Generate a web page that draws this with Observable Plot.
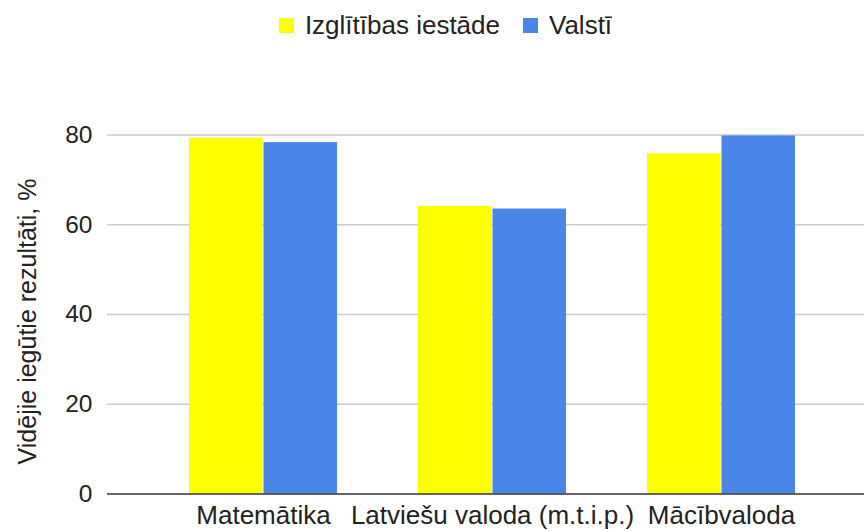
<!DOCTYPE html>
<html>
<head>
<meta charset="utf-8">
<script src="https://cdn.jsdelivr.net/npm/d3@7"></script>
<script src="https://cdn.jsdelivr.net/npm/@observablehq/plot@0.6"></script>
<style>
  html, body { margin: 0; padding: 0; background: #fff; }
  body { width: 864px; height: 531px; overflow: hidden; font-family: "Liberation Sans", Arial, sans-serif; color: #222; }
  #legend { height: 50px; display: flex; align-items: center; justify-content: center; padding-left: 27px; box-sizing: border-box; font-size: 26px; }
  .item { display: flex; align-items: center; }
  .sw { width: 15px; height: 15px; margin-right: 11px; }
  .item + .item { margin-left: 23px; }
</style>
</head>
<body>
<div id="legend"></div>
<div id="chart"></div>
<script>
const categories = ["Matemātika", "Latviešu valoda (m.t.i.p.)", "Mācībvaloda"];
const seriesNames = ["Izglītības iestāde", "Valstī"];
const schoolValues = [79.3, 64.1, 75.8];
const nationalValues = [78.3, 63.5, 79.8];
const seriesColors = ["#ffff00", "#4a86e8"];
const yTicks = [0, 20, 40, 60, 80];
const yTitle = "Vidējie iegūtie rezultāti, %";

// legend
const legend = document.getElementById("legend");
seriesNames.forEach((name, i) => {
  const it = document.createElement("div");
  it.className = "item";
  const sw = document.createElement("div");
  sw.className = "sw";
  sw.style.background = seriesColors[i];
  const tx = document.createElement("span");
  tx.textContent = name;
  it.appendChild(sw);
  it.appendChild(tx);
  legend.appendChild(it);
});

const school = categories.map((c, i) => ({category: c, value: schoolValues[i]}));
const national = categories.map((c, i) => ({category: c, value: nationalValues[i]}));

const xOpts = {domain: categories, range: [107, 876.6], padding: 0.355, tickSize: 0, tickPadding: 12, label: null};
const bw = Plot.scale({x: {type: "band", ...xOpts}}).bandwidth;
const half = bw / 2;

const chart = Plot.plot({
  width: 864,
  height: 481,
  marginTop: 84.5,
  marginBottom: 37.5,
  marginLeft: 107,
  marginRight: 0,
  style: {fontSize: "26px", fontFamily: "'Liberation Sans', Arial, sans-serif", color: "#222", background: "#fff", overflow: "visible"},
  x: xOpts,
  y: {domain: [0, 80], axis: null},
  marks: [
    Plot.ruleY(yTicks.filter(d => d > 0), {stroke: "#cccccc", strokeWidth: 1.3}),
    Plot.barY(school, {x: "category", y: "value", fill: seriesColors[0], insetRight: half + 0.5}),
    Plot.barY(national, {x: "category", y: "value", fill: seriesColors[1], insetLeft: half + 0.5}),
    Plot.ruleY([0], {stroke: "#333333", strokeWidth: 1.5}),
    Plot.text(yTicks, {y: d => d, frameAnchor: "left", textAnchor: "end", dx: -15, text: d => String(d), fontSize: 24.5, fill: "#222"}),
    Plot.text([yTitle], {frameAnchor: "left", text: d => d, rotate: -90, textAnchor: "middle", dx: -80, dy: 7, fontSize: 25, fill: "#222"})
  ]
});
document.getElementById("chart").appendChild(chart);
</script>
</body>
</html>
